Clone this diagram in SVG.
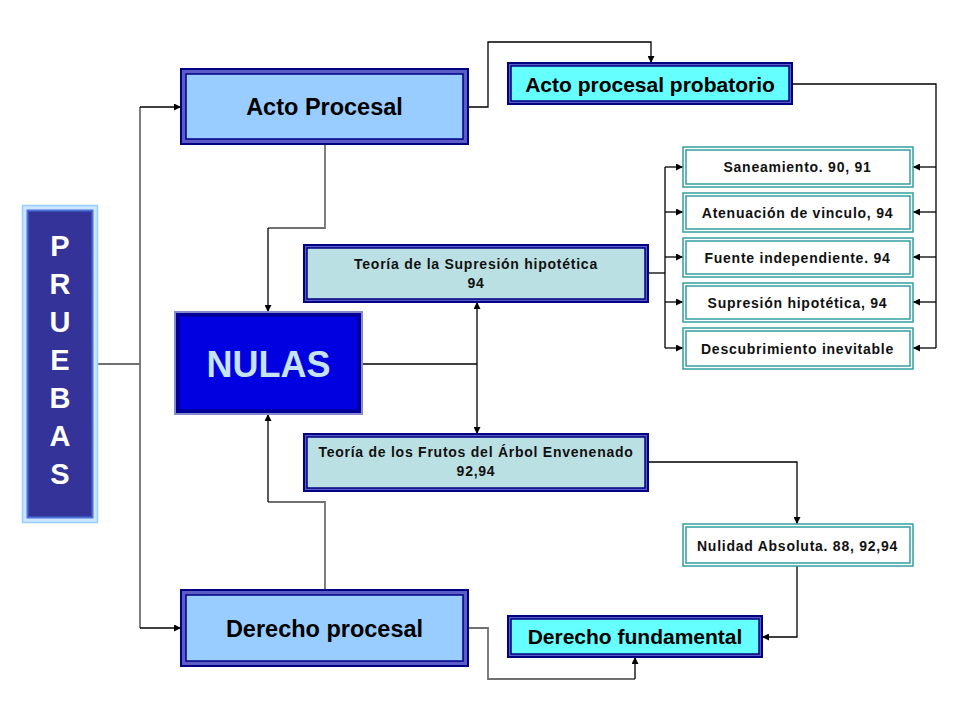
<svg xmlns="http://www.w3.org/2000/svg" width="960" height="720" viewBox="0 0 960 720">
<defs>
<marker id="ah" viewBox="0 0 10 10" refX="10" refY="5" markerWidth="7" markerHeight="7" markerUnits="userSpaceOnUse" orient="auto">
<path d="M0,0 L10,5 L0,10 z" fill="#000"/>
</marker>
</defs>
<style>
text{font-family:"Liberation Sans",Arial,sans-serif;font-weight:bold;text-anchor:middle;}
.big{font-size:23.5px;fill:#000;}
.mid{font-size:21px;fill:#000;}
.sm{font-size:14px;fill:#111;letter-spacing:0.75px;}
.bo{fill:#5c5cc8;stroke:#000080;stroke-width:2;}
.bi{fill:#99ccff;stroke:#000080;stroke-width:1.5;}
.ci{fill:#66ffff;stroke:#000080;stroke-width:1.5;}
.ti{fill:#bbe0e3;stroke:#000080;stroke-width:1.5;}
.wo{fill:#fff;stroke:#33a0a0;stroke-width:1.5;}
.wi{fill:#fff;stroke:#33a0a0;stroke-width:1.5;}
.c{fill:none;stroke:#000;stroke-width:1.3;}
.g{fill:none;stroke:#707070;stroke-width:1.8;}
</style>
<rect width="960" height="720" fill="#fff"/>

<g id="connectors">
<path class="g" d="M97,364 H140"/>
<path class="g" d="M140,107 V628"/>
<path class="c" d="M140,107 H181" marker-end="url(#ah)"/>
<path class="c" d="M140,628 H181" marker-end="url(#ah)"/>
<path class="g" d="M325,144 V228 H268"/>
<path class="c" d="M268,228 V312" marker-end="url(#ah)"/>
<path class="g" d="M325,590 V502 H268"/>
<path class="c" d="M268,502 V414" marker-end="url(#ah)"/>
<path class="c" d="M362,364 H477"/>
<path class="c" d="M477,364 V302" marker-end="url(#ah)"/>
<path class="c" d="M477,364 V434" marker-end="url(#ah)"/>
<path class="c" d="M468,107 H488 V42 H651 V63" marker-end="url(#ah)"/>
<path class="c" d="M792,84 H936 V348"/>
<path class="c" d="M936,167 H913" marker-end="url(#ah)"/>
<path class="c" d="M936,212 H913" marker-end="url(#ah)"/>
<path class="c" d="M936,257 H913" marker-end="url(#ah)"/>
<path class="c" d="M936,302 H913" marker-end="url(#ah)"/>
<path class="c" d="M936,348 H913" marker-end="url(#ah)"/>
<path class="c" d="M648,273 H665"/>
<path class="c" d="M665,167 V348"/>
<path class="c" d="M665,167 H683" marker-end="url(#ah)"/>
<path class="c" d="M665,212 H683" marker-end="url(#ah)"/>
<path class="c" d="M665,257 H683" marker-end="url(#ah)"/>
<path class="c" d="M665,302 H683" marker-end="url(#ah)"/>
<path class="c" d="M665,348 H683" marker-end="url(#ah)"/>
<path class="c" d="M648,462 H797 V524" marker-end="url(#ah)"/>
<path class="c" d="M797,566 V637 H762" marker-end="url(#ah)"/>
<path class="g" d="M468,628 H488 V679 H635"/>
<path class="c" d="M635,679 V657" marker-end="url(#ah)"/>
</g>

<g id="pruebas">
<rect x="22.5" y="205.5" width="75" height="317" fill="#cce6ff" stroke="#99ccff" stroke-width="1.5"/>
<rect x="27.5" y="210.5" width="65" height="307" fill="#333399" stroke="#4a6fd6" stroke-width="2"/>
<g style="font-size:29px;fill:#fff">
<text x="60" y="256">P</text>
<text x="60" y="294">R</text>
<text x="60" y="332">U</text>
<text x="60" y="370">E</text>
<text x="60" y="408">B</text>
<text x="60" y="446">A</text>
<text x="60" y="484">S</text>
</g>
</g>

<g id="acto-procesal">
<rect class="bo" x="181" y="69" width="287" height="75"/>
<rect class="bi" x="186" y="74" width="277" height="65"/>
<text class="big" x="324.5" y="115">Acto Procesal</text>
</g>

<g id="derecho-procesal">
<rect class="bo" x="181" y="590" width="287" height="76"/>
<rect class="bi" x="186" y="595" width="277" height="66"/>
<text class="big" x="324.5" y="636.5">Derecho procesal</text>
</g>

<g id="nulas">
<rect x="175" y="312" width="187" height="102" fill="#000099" stroke="#8888cc" stroke-width="2"/>
<rect x="179" y="316" width="179" height="94" fill="#0000e0" stroke="#000080" stroke-width="1"/>
<text x="268.5" y="377" style="font-size:36px;fill:#c6e2f5">NULAS</text>
</g>

<g id="teoria-supresion">
<rect class="bo" x="304" y="245" width="344" height="57"/>
<rect class="ti" x="307" y="248" width="338" height="51"/>
<text class="sm" x="476" y="269">Teoría de la Supresión hipotética</text>
<text class="sm" x="476" y="288">94</text>
</g>

<g id="teoria-frutos">
<rect class="bo" x="304" y="434" width="344" height="57"/>
<rect class="ti" x="307" y="437" width="338" height="51"/>
<text class="sm" x="476" y="457">Teoría de los Frutos del Árbol Envenenado</text>
<text class="sm" x="476" y="476">92,94</text>
</g>

<g id="acto-probatorio">
<rect class="bo" x="508" y="63" width="284" height="41"/>
<rect class="ci" x="511" y="66" width="278" height="35"/>
<text class="mid" x="650" y="92">Acto procesal probatorio</text>
</g>

<g id="derecho-fundamental">
<rect class="bo" x="508" y="616" width="254" height="41"/>
<rect class="ci" x="511" y="619" width="248" height="35"/>
<text class="mid" x="635" y="644">Derecho fundamental</text>
</g>

<g id="saneamiento">
<rect class="wo" x="683" y="147" width="230" height="40"/>
<rect class="wi" x="686" y="150" width="224" height="34"/>
<text class="sm" x="797.5" y="172">Saneamiento. 90, 91</text>
</g>
<g id="atenuacion">
<rect class="wo" x="683" y="193" width="230" height="39"/>
<rect class="wi" x="686" y="196" width="224" height="33"/>
<text class="sm" x="797.5" y="218">Atenuación de vinculo, 94</text>
</g>
<g id="fuente">
<rect class="wo" x="683" y="238" width="230" height="39"/>
<rect class="wi" x="686" y="241" width="224" height="33"/>
<text class="sm" x="797.5" y="263">Fuente independiente. 94</text>
</g>
<g id="supresion">
<rect class="wo" x="683" y="283" width="230" height="39"/>
<rect class="wi" x="686" y="286" width="224" height="33"/>
<text class="sm" x="797.5" y="308">Supresión hipotética, 94</text>
</g>
<g id="descubrimiento">
<rect class="wo" x="683" y="328" width="230" height="41"/>
<rect class="wi" x="686" y="331" width="224" height="35"/>
<text class="sm" x="797.5" y="354">Descubrimiento inevitable</text>
</g>
<g id="nulidad">
<rect class="wo" x="683" y="524" width="230" height="42"/>
<rect class="wi" x="686" y="527" width="224" height="36"/>
<text class="sm" x="797.5" y="551">Nulidad Absoluta. 88, 92,94</text>
</g>
</svg>
